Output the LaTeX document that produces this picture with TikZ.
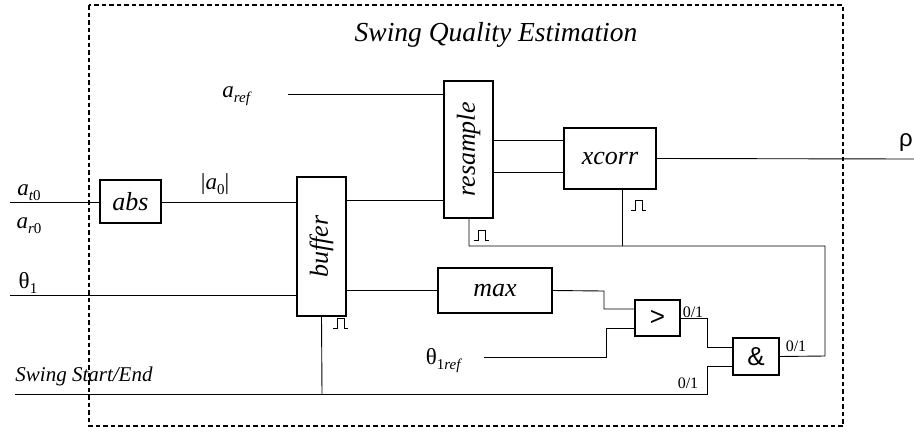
\documentclass[tikz,border=0pt]{standalone}
\usepackage{fontspec}
\setmainfont{Liberation Serif}
\newfontfamily\sansf{Liberation Sans}
\newcommand{\lsub}[1]{\raisebox{-5pt}{\fontsize{15}{17}\selectfont #1}}
\begin{document}
\begin{tikzpicture}[x=1pt,y=-1pt,
  blk/.style={draw,line width=1.3pt,inner sep=0pt,font=\fontsize{26}{28}\selectfont\itshape},
  wire/.style={line width=0.9pt},
  lbl/.style={inner sep=0pt,font=\fontsize{23}{25}\selectfont},
  small/.style={inner sep=0pt,font=\fontsize{16}{18}\selectfont}]
\useasboundingbox (0,0) rectangle (914,432);
\newcommand{\pulse}[2]{\draw[line width=0.8pt] (#1,#2) -- ++(4,0) -- ++(0,-10) -- ++(7,0) -- ++(0,10) -- ++(4,0);}
% frame
\draw[line width=2pt,dash pattern=on 4.5pt off 3pt] (89,5) rectangle (843,426);
\node[inner sep=0pt,font=\fontsize{27.5}{30}\selectfont\itshape] (title) at (496,35) {Swing Quality Estimation};
% blocks
\node[blk,minimum width=61pt,minimum height=43pt] (abs) at (130.5,201.5) {abs};
\node[blk,minimum width=49pt,minimum height=139pt] (buf) at (321.5,246.5) {\rotatebox{90}{buffer}};
\node[blk,minimum width=49pt,minimum height=137pt] (res) at (468.5,149.5) {\rotatebox{90}{resample}};
\node[blk,minimum width=92pt,minimum height=61pt] (xc) at (610,158.5) {xcorr};
\node[blk,minimum width=114pt,minimum height=45pt] (mx) at (495,290.5) {max};
\node[blk,minimum width=45pt,minimum height=36pt,font=\fontsize{26}{28}\selectfont\sansf] (gt) at (657.5,318) {>};
\node[blk,minimum width=46pt,minimum height=37pt,font=\fontsize{26}{28}\selectfont\sansf] (and) at (756,356.5) {\&};
% coordinates
\coordinate (inA) at (10,202);
\coordinate (inT) at (10,295);
\coordinate (inR) at (288,94);
\coordinate (inS) at (15,394);
\coordinate (inTr) at (484,357);
\coordinate (outR) at (914,159);
% labels
\node[lbl] (lat) at (29,193) {\textit{a}\lsub{\textit{t}0}};
\node[lbl] (lar) at (29,226) {\textit{a}\lsub{\textit{r}0}};
\node[lbl] (la0) at (215,184) {|\textit{a}\lsub{0}|};
\node[lbl] (lth) at (28,283) {θ\lsub{1}};
\node[lbl] (lref) at (237,96) {\textit{a}\lsub{\textit{ref}}};
\node[lbl] (lthr) at (444,361) {θ\lsub{1\textit{ref}}};
\node[inner sep=0pt,font=\fontsize{24}{26}\selectfont\sansf] (lrho) at (906,143) {ρ};
\node[lbl,font=\fontsize{21}{23}\selectfont\itshape] (lsw) at (84,376) {Swing Start/End};
\node[small] (o1) at (693,312) {0/1};
\node[small] (o2) at (796,346) {0/1};
\node[small] (o3) at (688,383) {0/1};
% wires
\draw[wire] (inA) -- (abs.west |- inA);
\draw[wire] (abs.east |- inA) -- (buf.west |- inA);
\draw[wire] (inT) -- (buf.west |- inT);
\draw[wire] (buf.east |- 0,200) -- (res.west |- 0,200);
\draw[wire] (buf.east |- mx.west) -- (mx.west);
\draw[wire] (inR) -- (res.west |- inR);
\draw[wire] (res.east |- 0,140) -- (xc.west |- 0,140);
\draw[wire] (res.east |- 0,172) -- (xc.west |- 0,172);
\draw[wire] (xc.east) -- (outR);
\draw[wire] (res.south -| 469,0) -- (469,246) -- (825,246) -- (825,356) -- (and.east);
\draw[wire] (xc.south -| 622,0) -- (622,246);
\draw[wire] (buf.south) -- (322,394);
\draw[wire] (mx.east) -- (604,291) -- (604,309) -- (gt.west |- 0,309);
\draw[wire] (inTr) -- (606,357) -- (606,328) -- (gt.west |- 0,328);
\draw[wire] (gt.east) -- (707,318) -- (707,347) -- (and.west |- 0,347);
\draw[wire] (inS) -- (707,394) -- (707,366) -- (and.west |- 0,366);
% pulses
\pulse{333}{328}
\pulse{474}{240}
\pulse{631}{210}
\end{tikzpicture}
\end{document}
